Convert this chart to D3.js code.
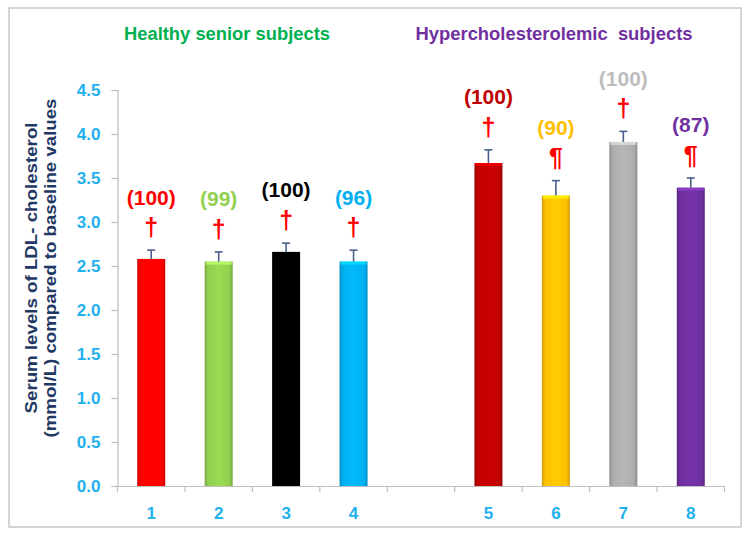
<!DOCTYPE html>
<html>
<head>
<meta charset="utf-8">
<script src="https://cdn.jsdelivr.net/npm/d3@7"></script>
<style>
  html, body { margin: 0; padding: 0; background: #fff; }
  svg { display: block; font-family: "Liberation Sans", Arial, sans-serif; }
</style>
</head>
<body>
<svg id="chart" width="750" height="535"></svg>
<script>
// ---- data ----
const categories = ["1", "2", "3", "4", "gap", "5", "6", "7", "8"];
const barCategories = ["1", "2", "3", "4", "5", "6", "7", "8"];
const values = [2.58, 2.55, 2.66, 2.55, 3.67, 3.30, 3.91, 3.39];
const errors = [0.10, 0.11, 0.10, 0.13, 0.15, 0.17, 0.12, 0.11];
const percentLabels = ["(100)", "(99)", "(100)", "(96)", "(100)", "(90)", "(100)", "(87)"];
const symbols = ["†", "†", "†", "†", "†", "¶", "†", "¶"];
const barColors = ["#ff0000", "#92d050", "#000000", "#00b0f0", "#c00000", "#ffc000", "#adadad", "#7030a0"];
const labelColors = ["#ff0000", "#92d050", "#000000", "#00b0f0", "#c00000", "#ffc000", "#bdbdbd", "#7030a0"];
const yTicks = [0, 0.5, 1, 1.5, 2, 2.5, 3, 3.5, 4, 4.5];
const groupTitles = ["Healthy senior subjects", "Hypercholesterolemic\u00a0 subjects"];
const groupColors = ["#00b050", "#7030a0"];
const yTitle = ["Serum levels of LDL- cholesterol", "(mmol/L) compared to baseline values"];

// ---- layout ----
const svg = d3.select("#chart");
const x = d3.scaleBand().domain(categories).range([117.5, 724.5])
  .paddingInner(0.585).paddingOuter(0.2925);
const y = d3.scaleLinear().domain([0, 4.5]).range([486, 90]);
const FONT = "Liberation Sans, Arial, sans-serif";

// frame
svg.append("rect").attr("x", 9).attr("y", 8).attr("width", 732).attr("height", 519)
  .attr("fill", "none").attr("stroke", "#c8c8c8").attr("stroke-width", 1.5);

// gradients for bars
const defs = svg.append("defs");
barColors.forEach((c, i) => {
  const g = defs.append("linearGradient").attr("id", "g" + i)
    .attr("x1", "0%").attr("x2", "100%").attr("y1", "0%").attr("y2", "0%");
  const base = d3.color(c);
  const dark = base.darker(0.6);
  const light = base.brighter(0.15);
  [[0, dark], [0.12, base], [0.5, light], [0.88, base], [1, dark]].forEach(([o, col]) => {
    g.append("stop").attr("offset", o).attr("stop-color", col.formatHex());
  });
});

// y axis
const yAxis = d3.axisLeft(y).tickValues(yTicks).tickFormat(d3.format(".1f")).tickSize(6).tickPadding(11);
const yg = svg.append("g").attr("transform", "translate(117.5,0)").call(yAxis);
yg.select(".domain").attr("stroke", "#bfbfbf").attr("stroke-width", 1.2);
yg.selectAll(".tick line").attr("stroke", "#bfbfbf").attr("stroke-width", 1.2);
yg.selectAll(".tick text").attr("fill", "#1fb0ee").attr("font-size", 17).attr("font-weight", "bold")
  .attr("font-family", FONT);

// x axis: labels at centers, ticks at slot boundaries
const xAxis = d3.axisBottom(x).tickSize(0).tickPadding(21)
  .tickFormat(d => d === "gap" ? "" : d);
const xg = svg.append("g").attr("transform", "translate(0,486)").call(xAxis);
xg.select(".domain").attr("stroke", "#bfbfbf").attr("stroke-width", 1.2);
xg.selectAll(".tick text").attr("fill", "#1fb0ee").attr("font-size", 17).attr("font-weight", "bold")
  .attr("font-family", FONT);
const bounds = d3.range(categories.length + 1).map(i => x.range()[0] + i * x.step());
xg.selectAll(".bound").data(bounds).enter().append("line")
  .attr("x1", d => d).attr("x2", d => d).attr("y1", 0).attr("y2", 6)
  .attr("stroke", "#bfbfbf").attr("stroke-width", 1.2);

// bars
const bw = x.bandwidth();
const barData = barCategories.map((c, i) => ({c, v: values[i], e: errors[i], i}));
svg.append("g").selectAll("rect").data(barData).enter().append("rect")
  .attr("x", d => x(d.c)).attr("y", d => y(d.v))
  .attr("width", bw).attr("height", d => y(0) - y(d.v))
  .attr("fill", d => `url(#g${d.i})`);
// top highlight
svg.append("g").selectAll("rect").data(barData).enter().append("rect")
  .attr("x", d => x(d.c) + 1).attr("y", d => y(d.v))
  .attr("width", bw - 2).attr("height", 3)
  .attr("fill", d => d3.color(barColors[d.i]).brighter(0.7).formatHex()).attr("opacity", 0.8);

// error bars (upper only)
const eg = svg.append("g").attr("stroke", "#4a5f8c").attr("stroke-width", 1.6);
barData.forEach(d => {
  const cx = x(d.c) + bw / 2;
  eg.append("line").attr("x1", cx).attr("x2", cx).attr("y1", y(d.v)).attr("y2", y(d.v + d.e));
  eg.append("line").attr("x1", cx - 4).attr("x2", cx + 4).attr("y1", y(d.v + d.e)).attr("y2", y(d.v + d.e));
});

// symbols and percentages
svg.append("g").selectAll("text").data(barData).enter().append("text")
  .attr("x", d => x(d.c) + bw / 2).attr("y", d => y(d.v + d.e) - 23)
  .attr("dy", "0.35em").attr("text-anchor", "middle")
  .attr("font-size", 25).attr("font-weight", "bold").attr("fill", "#ff0000")
  .text(d => symbols[d.i]);
svg.append("g").selectAll("text").data(barData).enter().append("text")
  .attr("x", d => x(d.c) + bw / 2).attr("y", d => y(d.v + d.e) - 53)
  .attr("dy", "0.35em").attr("text-anchor", "middle")
  .attr("font-size", 21).attr("font-weight", "bold").attr("fill", d => labelColors[d.i])
  .text(d => percentLabels[d.i]);

// group titles
const titleX = [227, 554];
const titleW = [206, 277];
groupTitles.forEach((t, gi) => {
  svg.append("text").attr("x", titleX[gi]).attr("y", 40)
    .attr("text-anchor", "middle").attr("font-size", 18).attr("font-weight", "bold")
    .attr("textLength", titleW[gi]).attr("lengthAdjust", "spacingAndGlyphs")
    .attr("fill", groupColors[gi]).text(t);
});

// y title
const yTitleLen = [291, 339];
const yTitleX = [37, 56];
yTitle.forEach((l, i) => {
  svg.append("text").attr("transform", `translate(${yTitleX[i]},268) rotate(-90)`)
    .attr("text-anchor", "middle").attr("font-size", 17).attr("font-weight", "bold")
    .attr("textLength", yTitleLen[i]).attr("lengthAdjust", "spacingAndGlyphs")
    .attr("fill", "#1f3864").text(l);
});
</script>
</body>
</html>
